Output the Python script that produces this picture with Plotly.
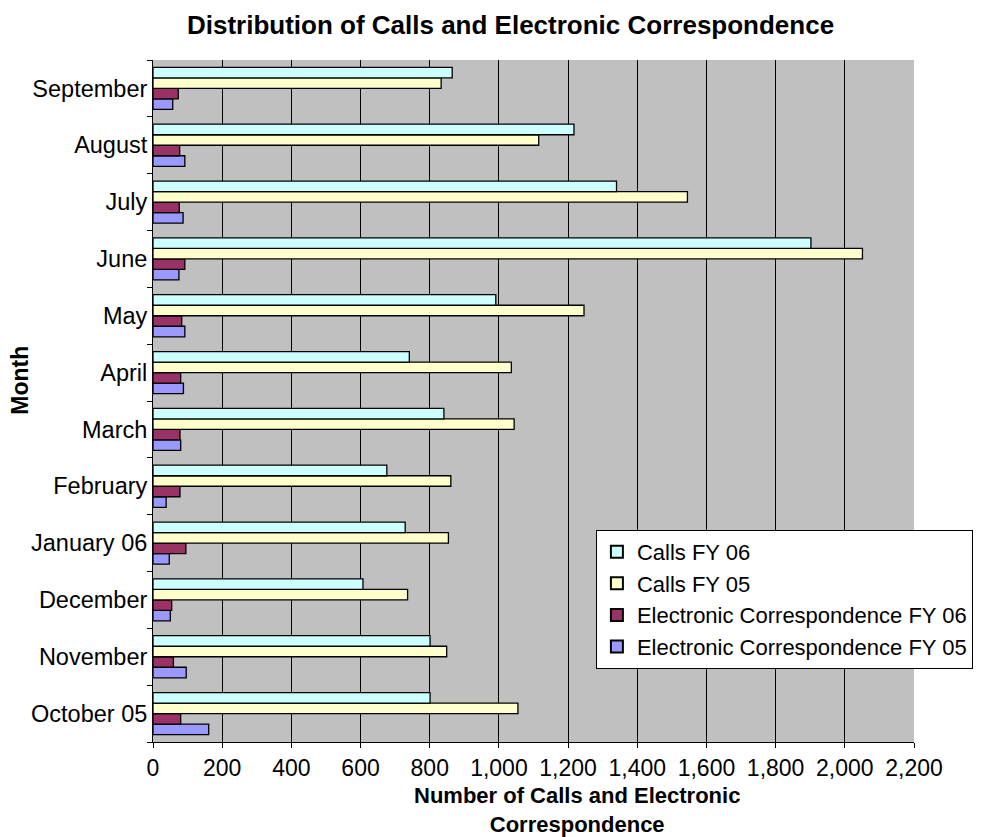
import plotly.graph_objects as go

months = ["October 05", "November", "December", "January 06", "February", "March",
          "April", "May", "June", "July", "August", "September"]
calls_fy06 = [801, 801, 607, 729, 676, 841, 741, 991, 1902, 1340, 1217, 865]
calls_fy05 = [1055, 849, 736, 854, 861, 1044, 1036, 1246, 2051, 1545, 1115, 833]
ecorr_fy06 = [80, 59, 54, 95, 78, 78, 80, 83, 92, 76, 77, 73]
ecorr_fy05 = [161, 96, 50, 47, 38, 80, 88, 92, 75, 87, 92, 57]

series = [
    ("Electronic Correspondence FY 05", ecorr_fy05, "#9999FF"),
    ("Electronic Correspondence FY 06", ecorr_fy06, "#993366"),
    ("Calls FY 05", calls_fy05, "#FFFFCC"),
    ("Calls FY 06", calls_fy06, "#CCFFFF"),
]

fig = go.Figure()
for name, vals, col in series:
    fig.add_trace(go.Bar(
        y=months, x=vals, name=name, orientation="h",
        marker=dict(color=col, line=dict(color="black", width=1.3)),
    ))

font = "Arial, 'Liberation Sans', sans-serif"
fig.update_layout(
    width=1005, height=837,
    barmode="group", bargap=0.26, bargroupgap=0,
    plot_bgcolor="#C0C0C0", paper_bgcolor="white",
    margin=dict(l=153, r=91, t=60, b=95),
    font=dict(family=font, size=24, color="black"),
    title=dict(text="<b>Distribution of Calls and Electronic Correspondence</b>",
               x=0.508, xanchor="center", y=0.97, yanchor="middle",
               font=dict(size=26, family=font)),
    legend=dict(traceorder="reversed", x=0.582, y=0.311, xanchor="left", yanchor="top",
                bgcolor="white", bordercolor="black", borderwidth=1,
                font=dict(size=22, family=font), itemsizing="constant",
                tracegroupgap=0),
    xaxis=dict(range=[0, 2200], dtick=200, tickformat=",d",
               showgrid=True, gridcolor="black", gridwidth=1,
               showline=True, linecolor="black", linewidth=1,
               ticks="outside", ticklen=5, tickcolor="black",
               tickfont=dict(size=23), automargin=False,
               zeroline=False),
    yaxis=dict(categoryorder="array", categoryarray=months,
               showline=True, linecolor="black", linewidth=1,
               ticks="outside", ticklen=5, tickcolor="black", tickson="boundaries",
               tickfont=dict(size=23.5), showgrid=False, automargin=False),
    annotations=[
        dict(text="<b>Number of Calls and Electronic<br>Correspondence</b>",
             xref="paper", yref="paper", x=0.557, y=-0.1,
             xanchor="center", yanchor="middle", showarrow=False,
             font=dict(size=22)),
        dict(text="<b>Month</b>", textangle=-90,
             xref="paper", yref="paper", x=-0.175, y=0.531,
             xanchor="center", yanchor="middle", showarrow=False,
             font=dict(size=23)),
    ],
)

fig.write_html("out.html", config={"displayModeBar": False},
               post_script="document.body.style.margin='0px';")
